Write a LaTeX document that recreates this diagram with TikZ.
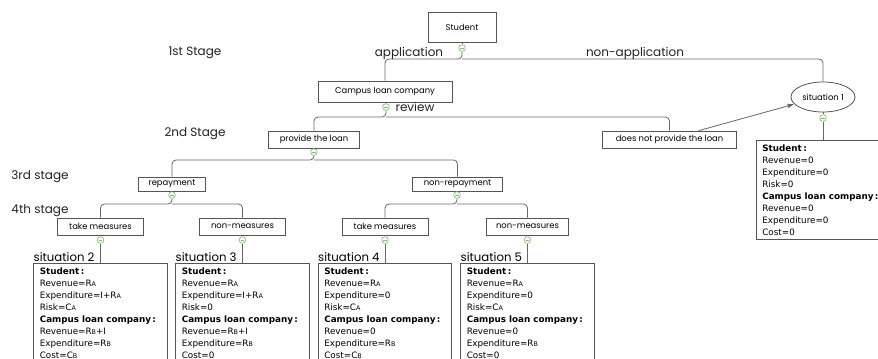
\documentclass[tikz,border=0pt]{standalone}
\usepackage{fontspec}
\setmainfont{DejaVu Sans}
\newfontfamily\geofont{Poppins}
\usetikzlibrary{arrows.meta,shapes.geometric}
\definecolor{ink}{HTML}{222222}
\definecolor{wire}{HTML}{666666}
\definecolor{frame}{HTML}{555555}
\definecolor{leaf}{HTML}{7CC46A}
\newcommand\lowcap[1]{{\fontsize{4.8}{5}\selectfont #1}}

\begin{document}
\begin{tikzpicture}[x=0.75pt,y=-0.75pt,
  stage/.style={font=\geofont\fontsize{9}{9}\selectfont,text=ink,inner sep=0pt},
  choice/.style={draw=frame,fill=white,line width=0.6pt,inner sep=0pt,
    minimum height=12.75pt,font=\geofont\fontsize{6.3}{6.3}\selectfont},
  fold/.style={circle,draw=leaf,fill=white,inner sep=0pt,minimum size=5pt,
    line width=0.5pt,path picture={\draw[leaf,line width=0.5pt]
      ([xshift=-1.4pt]path picture bounding box.center) --
      ([xshift=1.4pt]path picture bounding box.center);}},
  wire/.style={draw=wire,line width=0.6pt,rounded corners=3pt},
  payoff/.style={draw=frame,fill=white,line width=0.6pt,anchor=north,
    align=left,text width=91pt,inner xsep=4.5pt,inner ysep=3pt,
    font=\fontsize{6.6}{9}\selectfont},
  sitlbl/.style={font=\geofont\fontsize{8.8}{8.8}\selectfont,
    anchor=south west,inner xsep=0pt,inner ysep=1pt}]
  \useasboundingbox (0,0) rectangle (878,358);
  \clip (0,0) rectangle (878,358);

  % stage captions
  \node[stage] (st1) at (195,53) {1st Stage};
  \node[stage] (st2) at (195,134) {2nd Stage};
  \node[stage] (st3) at (40,177) {3rd stage};
  \node[stage] (st4) at (40,211) {4th stage};

  % first stage: the student decides
  \node[choice,minimum width=51pt,minimum height=23pt] (student) at (462,27.5) {Student};
  \node[fold] (gstu) at (462,48) {};
  \coordinate (j1) at (462,59);
  \node[choice,minimum width=100.5pt,minimum height=15.75pt] (campus) at (385,91.5)
    {Campus loan company};
  \node[ellipse,draw=frame,fill=white,line width=0.6pt,inner sep=0pt,
    minimum width=48pt,minimum height=22.5pt,
    font=\geofont\fontsize{6.3}{6.3}\selectfont] (sit1) at (823,97) {situation 1};
  \draw[wire] (student) -- (gstu);
  \draw[wire] (gstu) -- (j1) -| (campus.north);
  \draw[wire] (j1) -| (sit1.north);
  \node[stage] (apply) at (409,53) {application};
  \node[stage] (noapply) at (635,53) {non-application};

  % second stage: the company reviews
  \node[fold] (gcamp) at (386,107) {};
  \node[stage] (review) at (415,107) {review};
  \coordinate (j2) at (386,117);
  \node[choice,minimum width=68pt] (provide) at (314,139.5) {provide the loan};
  \node[choice,minimum width=101pt] (refuse) at (669.5,139.5) {does not provide the loan};
  \draw[wire] (campus) -- (gcamp);
  \draw[wire] (gcamp) -- (j2) -| (provide.north);
  \draw[wire] (j2) -| (refuse.north);
  \draw[wire,-{Latex[length=5pt,width=3.5pt]}] ([xshift=22pt]refuse.north) -- (sit1.194);

  \node[fold] (gsit1) at (823,118) {};
  \node[payoff] (pay1) at (823,140) {\textbf{Student\,:}\\Revenue=0\\Expenditure=0\\Risk=0\\
    \textbf{Campus loan company\,:}\\Revenue=0\\Expenditure=0\\Cost=0};
  \draw[wire] (sit1) -- (gsit1);
  \draw[wire] (gsit1) -- (pay1.north);

  % third stage: repayment or not
  \node[fold] (gprov) at (314,152) {};
  \coordinate (j3) at (314,160);
  \node[choice,minimum width=50pt,minimum height=10.5pt] (repay) at (172,184) {repayment};
  \node[choice,minimum width=67pt,minimum height=10.5pt] (norepay) at (457.5,184) {non-repayment};
  \draw[wire] (provide) -- (gprov);
  \draw[wire] (gprov) -- (j3) -| (repay.north);
  \draw[wire] (j3) -| (norepay.north);

  % fourth stage: measures
  \node[fold] (grep) at (172,195) {};
  \node[fold] (gnorep) at (457,195) {};
  \coordinate (j4) at (172,204);
  \coordinate (j5) at (457,204);
  \node[choice,minimum width=64.5pt] (take1) at (100.5,226.5) {take measures};
  \node[choice,minimum width=64pt] (none1) at (242.5,226.5) {non-measures};
  \node[choice,minimum width=64.5pt] (take2) at (385,226.5) {take measures};
  \node[choice,minimum width=61pt] (none2) at (527.5,226.5) {non-measures};
  \draw[wire] (repay) -- (grep);
  \draw[wire] (grep) -- (j4) -| (take1.north);
  \draw[wire] (j4) -| (none1.north);
  \draw[wire] (norepay) -- (gnorep);
  \draw[wire] (gnorep) -- (j5) -| (take2.north);
  \draw[wire] (j5) -| (none2.north);

  % pay-offs of the four outcomes
  \node[fold] (gt1) at (100.5,240) {};
  \node[fold] (gn1) at (242.5,240) {};
  \node[fold] (gt2) at (385,240) {};
  \node[fold] (gn2) at (527.5,240) {};
  \node[payoff] (pay2) at (100.5,263) {\textbf{Student\,:}\\Revenue=R\lowcap{A}\\
    Expenditure=I+R\lowcap{A}\\Risk=C\lowcap{A}\\\textbf{Campus loan company\,:}\\
    Revenue=R\lowcap{B}+I\\Expenditure=R\lowcap{B}\\Cost=C\lowcap{B}};
  \node[payoff] (pay3) at (242.5,263) {\textbf{Student\,:}\\Revenue=R\lowcap{A}\\
    Expenditure=I+R\lowcap{A}\\Risk=0\\\textbf{Campus loan company\,:}\\
    Revenue=R\lowcap{B}+I\\Expenditure=R\lowcap{B}\\Cost=0};
  \node[payoff] (pay4) at (385,263) {\textbf{Student\,:}\\Revenue=R\lowcap{A}\\
    Expenditure=0\\Risk=C\lowcap{A}\\\textbf{Campus loan company\,:}\\
    Revenue=0\\Expenditure=R\lowcap{B}\\Cost=C\lowcap{B}};
  \node[payoff] (pay5) at (527.5,263) {\textbf{Student\,:}\\Revenue=R\lowcap{A}\\
    Expenditure=0\\Risk=C\lowcap{A}\\\textbf{Campus loan company\,:}\\
    Revenue=0\\Expenditure=R\lowcap{B}\\Cost=0};
  \draw[wire] (take1) -- (gt1);
  \draw[wire] (gt1) -- (pay2.north);
  \draw[wire] (none1) -- (gn1);
  \draw[wire] (gn1) -- (pay3.north);
  \draw[wire] (take2) -- (gt2);
  \draw[wire] (gt2) -- (pay4.north);
  \draw[wire] (none2) -- (gn2);
  \draw[wire] (gn2) -- (pay5.north);
  \node[sitlbl] (lab2) at (pay2.north west) {situation 2};
  \node[sitlbl] (lab3) at (pay3.north west) {situation 3};
  \node[sitlbl] (lab4) at (pay4.north west) {situation 4};
  \node[sitlbl] (lab5) at (pay5.north west) {situation 5};
\end{tikzpicture}
\end{document}
